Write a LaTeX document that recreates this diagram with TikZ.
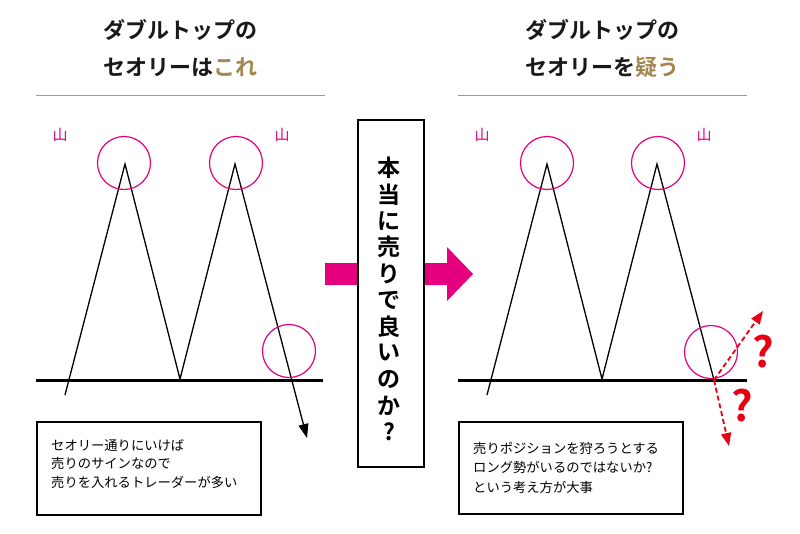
\documentclass[tikz,border=0pt]{standalone}
\usepackage{fontspec}
\setmainfont{Noto Sans CJK JP}[BoldFont={Noto Sans CJK JP Bold}]
\usetikzlibrary{arrows.meta}
\definecolor{mag}{HTML}{E4007F}
\definecolor{gold}{HTML}{A4874F}
\definecolor{qred}{HTML}{E60012}
\definecolor{sepgray}{HTML}{9A9A9A}
\begin{document}
\begin{tikzpicture}[x=1pt,y=-1pt,
  title/.style={font=\fontsize{22pt}{26pt}\selectfont\bfseries, inner sep=0pt, text=black!90},
  sepline/.style={draw=sepgray, line width=1pt},
  base/.style={line width=3pt, black},
  chart/.style={line width=1.3pt, black},
  ring/.style={draw=mag, line width=1.2pt, circle, minimum size=53pt, inner sep=0pt},
  yama/.style={text=mag, font=\fontsize{15pt}{18pt}\selectfont, inner sep=0pt},
  infobox/.style={draw=black, line width=1.3pt, fill=white},
  infotext/.style={font=\fontsize{13.3pt}{19pt}\selectfont, align=left, inner sep=0pt, anchor=west},
  vchar/.style={font=\fontsize{23pt}{28pt}\selectfont\bfseries, inner sep=0pt},
  qarrow/.style={draw=qred, line width=1.8pt, dash pattern=on 5pt off 3pt, -{Triangle[length=13pt,width=10pt]}},
  qmark/.style={text=qred, font=\fontsize{42pt}{46pt}\selectfont\bfseries, inner sep=0pt}
]
\useasboundingbox (0,0) rectangle (800,533);

% ---------- titles ----------
\node[title] (tl1) at (180,30) {ダブルトップの};
\node[title] (tl2) at (180,67) {セオリーは\textcolor{gold}{これ}};
\node[title] (tr1) at (602,30) {ダブルトップの};
\node[title] (tr2) at (602,67) {セオリーを\textcolor{gold}{疑う}};
\coordinate (sl1) at (36,95); \coordinate (sl2) at (325,95);
\coordinate (sr1) at (458,95); \coordinate (sr2) at (747,95);
\draw[sepline] (sl1) -- (sl2);
\draw[sepline] (sr1) -- (sr2);

% ---------- left chart ----------
\coordinate (lb1) at (36,380.5); \coordinate (lb2) at (323,380.5);
\draw[base] (lb1) -- (lb2);
\coordinate (ls) at (65,395);
\coordinate (lp1) at (125,164);
\coordinate (lv) at (180,379);
\coordinate (lp2) at (235,164);
\coordinate (le) at (307,438);
\draw[chart, line join=miter, -{Triangle[length=14pt,width=10pt]}] (ls) -- (lp1) -- (lv) -- (lp2) -- (le);
\node[ring] (lc1) at (124,163) {};
\node[ring] (lc2) at (236,163) {};
\node[ring] (lc3) at (289,351) {};
\node[yama] (ly1) at (60,135) {山};
\node[yama] (ly2) at (282,135) {山};

% ---------- right chart ----------
\coordinate (rb1) at (458,380.5); \coordinate (rb2) at (747,380.5);
\draw[base] (rb1) -- (rb2);
\coordinate (rs) at (487,395);
\coordinate (rp1) at (547,164);
\coordinate (rv) at (602,379);
\coordinate (rp2) at (657,164);
\coordinate (re) at (714,380);
\draw[chart, line join=miter] (rs) -- (rp1) -- (rv) -- (rp2) -- (re);
\node[ring] (rc1) at (547,163) {};
\node[ring] (rc2) at (658,163) {};
\node[ring] (rc3) at (711,352) {};
\node[yama] (ry1) at (482,135) {山};
\node[yama] (ry2) at (704,135) {山};
\coordinate (qu) at (763,311);
\coordinate (qd) at (729,446);
\draw[qarrow] (re) -- (qu);
\draw[qarrow] (re) -- (qd);
\node[qmark] (qm1) at (763,352) {?};
\node[qmark] (qm2) at (742,406) {?};

% ---------- pink arrow ----------
\fill[mag] (325,263) rectangle (358,285);
\fill[mag] (424,263) -- (447,263) -- (447,247) -- (473,274) -- (447,301) -- (447,285) -- (424,285) -- cycle;

% ---------- middle box ----------
\node[infobox, minimum width=66pt, minimum height=347pt, inner sep=0pt] (mid) at (391,293.5) {};
\node[vchar] (m1) at (389,168) {本};
\node[vchar] (m2) at (389,194.4) {当};
\node[vchar] (m3) at (389,220.8) {に};
\node[vchar] (m4) at (389,247.2) {売};
\node[vchar] (m5) at (389,273.6) {り};
\node[vchar] (m6) at (389,300) {で};
\node[vchar] (m7) at (389,326.4) {良};
\node[vchar] (m8) at (389,352.8) {い};
\node[vchar] (m9) at (389,379.2) {の};
\node[vchar] (m10) at (389,405.6) {か};
\node[vchar] (m11) at (389,432) {?};

% ---------- info boxes ----------
\draw[infobox] (37,422) rectangle (261,515);
\node[infotext] (lt1) at (51,445) {セオリー通りにいけば};
\node[infotext] (lt2) at (51,463.5) {売りのサインなので};
\node[infotext] (lt3) at (51,482) {売りを入れるトレーダーが多い};

\draw[infobox] (459,422) rectangle (683,514);
\node[infotext] (rt1) at (473,448) {売りポジションを狩ろうとする};
\node[infotext] (rt2) at (473,467.5) {ロング勢がいるのではないか?};
\node[infotext] (rt3) at (473,487) {という考え方が大事};
\end{tikzpicture}
\end{document}
